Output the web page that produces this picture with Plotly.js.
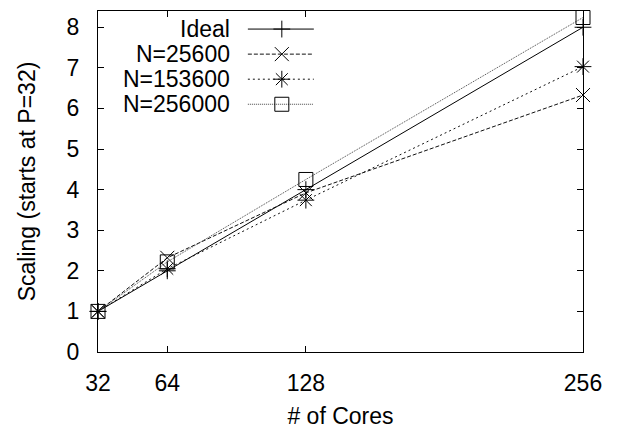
<!DOCTYPE html>
<html>
<head>
<meta charset="utf-8">
<script src="https://cdn.plot.ly/plotly-3.0.1.min.js"></script>
<style>html,body{margin:0;padding:0;background:#fff;}#chart{width:619px;height:429px;}</style>
</head>
<body>
<div id="chart"></div>
<script>
// ---- data ----
const cores = [32, 64, 128, 256];
const seriesNames = ["Ideal", "N=25600", "N=153600", "N=256000"];
const ideal    = [1, 2, 4, 8];
const n25600   = [1, 2.32, 3.92, 6.33];
const n153600  = [1, 2.05, 3.74, 7.03];
const n256000  = [1, 2.22, 4.25, 8.24];
const xTicks = [32, 64, 128, 256];
const yTicks = [0, 1, 2, 3, 4, 5, 6, 7, 8];

const seriesValues = [ideal, n25600, n153600, n256000];
const styles = [
  {symbol: "cross-thin-open", size: 12, dash: "solid", color: "#000"},
  {symbol: "x-thin-open", size: 14, dash: "4px,2px", color: "#111"},
  {symbol: "asterisk-open", size: 14, dash: "2px,3px", color: "#111"},
  {symbol: "square-open", size: 14, dash: "1px,1px", color: "#444"}
];

const FONT = "Liberation Sans, Arial, Helvetica, sans-serif";
const FS = 23;

const traces = [];
const annotations = [];
seriesNames.forEach((name, i) => {
  const s = styles[i];
  traces.push({
    x: cores, y: seriesValues[i], type: "scatter", mode: "lines+markers", name: name,
    line: {color: s.color, width: 1, dash: s.dash},
    marker: {symbol: s.symbol, size: s.size, color: "#000", line: {color: "#000", width: 1}},
    showlegend: false, hoverinfo: "x+y", cliponaxis: false
  });
  // legend sample (overlay axes in fractional units of plot area)
  const ly = 0.947 - i * 0.0735;
  traces.push({
    x: [0.309, 0.445], y: [ly, ly], xaxis: "x2", yaxis: "y2", type: "scatter", mode: "lines",
    line: {color: s.color, width: 1, dash: s.dash}, showlegend: false, hoverinfo: "skip"
  });
  traces.push({
    x: [0.379], y: [ly], xaxis: "x2", yaxis: "y2", type: "scatter", mode: "markers",
    marker: {symbol: s.symbol, size: s.size, color: "#000", line: {color: "#000", width: 1}},
    showlegend: false, hoverinfo: "skip"
  });
  annotations.push({
    xref: "x2", yref: "y2", x: 0.276, y: ly, text: name, showarrow: false,
    xanchor: "right", yanchor: "middle", font: {family: FONT, size: FS, color: "#000"}
  });
});

const layout = {
  width: 619, height: 429,
  margin: {l: 98, r: 36, t: 11, b: 77},
  paper_bgcolor: "#fff", plot_bgcolor: "#fff",
  showlegend: false,
  font: {family: FONT, size: FS, color: "#000"},
  xaxis: {
    range: [32, 256], tickvals: xTicks, ticktext: xTicks.map(String),
    ticks: "inside", ticklen: 6, tickcolor: "#000", tickwidth: 1,
    showline: true, linecolor: "#000", linewidth: 1, mirror: "ticks",
    showgrid: false, zeroline: false, ticklabelstandoff: 10,
    title: {text: "# of Cores", font: {family: FONT, size: FS}, standoff: 14},
    tickfont: {family: FONT, size: FS}
  },
  yaxis: {
    range: [0, 8.4], tickvals: yTicks, ticktext: yTicks.map(String),
    ticks: "inside", ticklen: 6, tickcolor: "#000", tickwidth: 1,
    showline: true, linecolor: "#000", linewidth: 1, mirror: "ticks",
    showgrid: false, zeroline: false, ticklabelstandoff: 13,
    title: {text: "Scaling (starts at P=32)", font: {family: FONT, size: FS}, standoff: 24},
    tickfont: {family: FONT, size: FS}
  },
  xaxis2: {overlaying: "x", range: [0, 1], visible: false, anchor: "y2", fixedrange: true},
  yaxis2: {overlaying: "y", range: [0, 1], visible: false, anchor: "x2", fixedrange: true},
  annotations: annotations
};

Plotly.newPlot("chart", traces, layout, {displayModeBar: false, staticPlot: true});
</script>
</body>
</html>
